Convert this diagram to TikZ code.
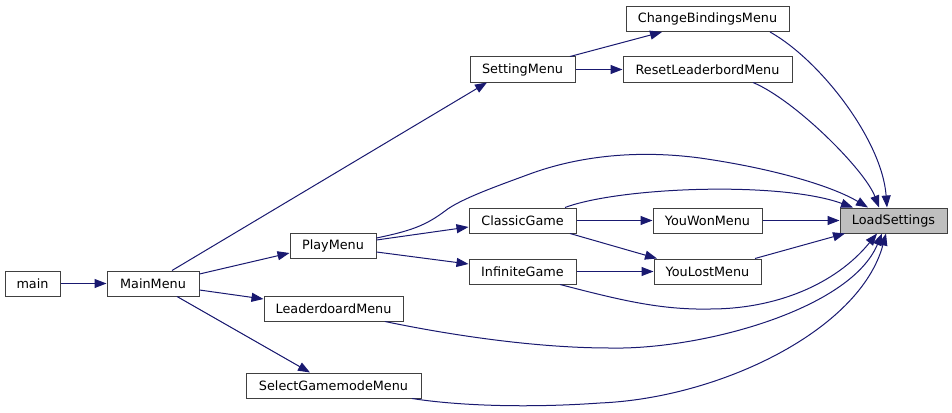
\documentclass[tikz,border=0pt]{standalone}
\usepackage{fontspec}
\setmainfont{DejaVu Sans}
\usetikzlibrary{arrows.meta}
\definecolor{navy}{HTML}{191970}
\definecolor{grey25}{HTML}{404040}
\definecolor{grey75}{HTML}{BFBFBF}
\begin{document}
\begin{tikzpicture}[x=1pt,y=-1pt,
  fnbox/.style={draw=grey25, fill=white, line width=1pt, minimum height=25pt, inner sep=0pt, font=\fontsize{12.8}{15}\selectfont},
  rootbox/.style={fnbox, fill=grey75},
  callarrow/.style={navy, line width=1pt, -{Triangle[length=12pt,width=9pt]}}]
\useasboundingbox (0,0) rectangle (952,412);
% nodes
\node[fnbox, minimum width=55pt]  (main) at (32.5,283.5) {main};
\node[fnbox, minimum width=92pt]  (MM)   at (153,283.5) {MainMenu};
\node[fnbox, minimum width=86pt]  (PM)   at (333,245.5) {PlayMenu};
\node[fnbox, minimum width=139pt] (LB)   at (333.5,308.5) {LeaderdoardMenu};
\node[fnbox, minimum width=175pt] (SG)   at (333.5,385.5) {SelectGamemodeMenu};
\node[fnbox, minimum width=105pt] (SM)   at (522.5,69.5) {SettingMenu};
\node[fnbox, minimum width=163pt] (CB)   at (707.5,19) {ChangeBindingsMenu};
\node[fnbox, minimum width=169pt] (RL)   at (707.5,69.5) {ResetLeaderbordMenu};
\node[fnbox, minimum width=107pt] (CG)   at (522.5,220.5) {ClassicGame};
\node[fnbox, minimum width=107pt] (IG)   at (522.5,271.5) {InfiniteGame};
\node[fnbox, minimum width=109pt] (YW)   at (707.5,220.5) {YouWonMenu};
\node[fnbox, minimum width=107pt] (YL)   at (707.5,271.5) {YouLostMenu};
\node[rootbox, minimum width=107pt] (LS) at (893.5,220.5) {LoadSettings};
% edges
\draw[callarrow] (main.east) -- (MM.west);
\draw[callarrow] ([yshift=9.5pt]MM.east) -- ([yshift=-7.5pt]PM.west);
\draw[callarrow] ([yshift=-6.5pt]MM.east) -- ([yshift=9.5pt]LB.west);
\draw[callarrow] ([xshift=24pt]MM.south) -- ([xshift=-23.5pt]SG.north);
\draw[callarrow] ([xshift=19pt]MM.north) -- ([xshift=-35.5pt]SM.south);
\draw[callarrow] ([xshift=47.5pt]SM.north) -- ([xshift=-45.5pt]CB.south);
\draw[callarrow] (SM.east) -- (RL.west);
\draw[callarrow] ([yshift=5.5pt]PM.east) -- ([yshift=-6.5pt]CG.west);
\draw[callarrow] ([yshift=-6.5pt]PM.east) -- ([yshift=7.5pt]IG.west);
\draw[callarrow] ([yshift=7.5pt]PM.east) .. controls (410,231) and (425,226) .. (445,211)
  .. controls (460,199) and (500,185) .. (527,175)
  .. controls (580,155) and (640,150) .. (700,158)
  .. controls (770,168) and (830,185) .. ([xshift=-25.5pt]LS.north);
\draw[callarrow] (CG.east) -- (YW.west);
\draw[callarrow] ([xshift=47.5pt]CG.south) -- ([xshift=-50.5pt]YL.north);
\draw[callarrow] ([xshift=42.5pt]CG.north) .. controls (620,187) and (780,181) .. ([xshift=-40.5pt]LS.north);
\draw[callarrow] (IG.east) -- (YL.west);
\draw[callarrow] ([xshift=37.5pt]IG.south) .. controls (620,300) and (660,310) .. (710,309)
  .. controls (775,309) and (835,285) .. ([xshift=-16.5pt]LS.south);
\draw[callarrow] (YW.east) -- (LS.west);
\draw[callarrow] ([xshift=47.5pt]YL.north) -- ([xshift=-48.5pt]LS.south);
\draw[callarrow] ([xshift=62.5pt]CB.south) .. controls (820,60) and (882,140) .. ([xshift=-6.5pt]LS.north);
\draw[callarrow] ([xshift=45.5pt]RL.south) .. controls (795,100) and (865,170) .. ([xshift=-14.5pt]LS.north);
\draw[callarrow] ([xshift=51.5pt]LB.south) .. controls (440,333) and (530,348) .. (610,348)
  .. controls (700,350) and (850,310) .. ([xshift=-11.5pt]LS.south);
\draw[callarrow] ([xshift=78.5pt]SG.south) .. controls (460,406) and (530,408) .. (600,403)
  .. controls (720,398) and (860,330) .. ([xshift=-7.5pt]LS.south);
\end{tikzpicture}
\end{document}
